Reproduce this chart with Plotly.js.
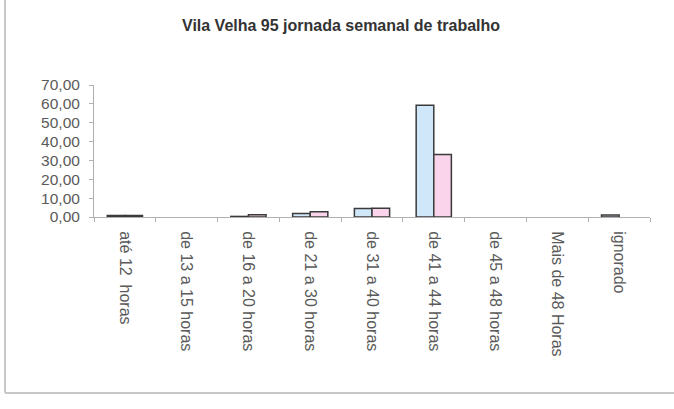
<!DOCTYPE html>
<html>
<head>
<meta charset="utf-8">
<script src="https://cdn.plot.ly/plotly-3.0.1.min.js"></script>
<style>html,body{margin:0;padding:0;background:#fff;}#chart{width:674px;height:409px;}</style>
</head>
<body>
<div id="chart"></div>
<script>
const categories = ["até 12  horas", "de 13 a 15 horas", "de 16 a 20 horas", "de 21 a 30 horas", "de 31 a 40 horas", "de 41 a 44 horas", "de 45 a 48 horas", "Mais de 48 Horas", "ignorado"];
const serieA = [0.8, 0, 0.3, 1.8, 4.5, 59.3, 0, 0, 1.0];
const serieB = [0.8, 0, 1.2, 2.8, 4.6, 33.2, 0, 0, 0];
const yTickVals = [0, 10, 20, 30, 40, 50, 60, 70];
const yTickText = ["0,00", "10,00", "20,00", "30,00", "40,00", "50,00", "60,00", "70,00"];
const titleText = "Vila Velha 95 jornada semanal de trabalho";

const font = "Arial, 'Liberation Sans', sans-serif";
function outlineWidths(vals) { return vals.map(v => v > 0 ? 1.5 : 0); }
const traces = [
  {type: "bar", x: categories, y: serieA, name: "A",
   marker: {color: "#cfe7f8", line: {color: "#3a3a3a", width: outlineWidths(serieA)}}},
  {type: "bar", x: categories, y: serieB, name: "B",
   marker: {color: "#f9d4ea", line: {color: "#3a3a3a", width: outlineWidths(serieB)}}}
];
const layout = {
  width: 674, height: 409,
  margin: {l: 94, r: 24, t: 85, b: 192, pad: 0},
  paper_bgcolor: "#fff", plot_bgcolor: "#fff",
  showlegend: false,
  barmode: "group", bargap: 0.43, bargroupgap: 0,
  font: {family: font, color: "#5a5a5a", size: 15},
  title: {text: "<b>" + titleText + "</b>", font: {family: font, size: 16, color: "#333"},
          x: 0.506, xref: "container", xanchor: "center", y: 0.939, yref: "container", yanchor: "middle"},
  xaxis: {type: "category", tickson: "boundaries", ticks: "outside", ticklen: 4, tickcolor: "#b0b0b0",
          showline: true, linecolor: "#b0b0b0", linewidth: 1, showgrid: false, zeroline: false,
          tickangle: 90, ticklabelstandoff: 10, tickfont: {family: font, size: 16, color: "#5a5a5a"}, fixedrange: true},
  yaxis: {range: [0, 70], tickvals: yTickVals, ticktext: yTickText, ticks: "outside", ticklen: 4,
          tickcolor: "#b0b0b0", showline: true, linecolor: "#b0b0b0", linewidth: 1, showgrid: false,
          zeroline: false, ticklabelstandoff: 6, tickfont: {family: font, size: 15.5, color: "#5a5a5a"}},
  shapes: [
    {type: "line", xref: "paper", yref: "paper", x0: -0.160, x1: -0.160, y0: -1.333, y1: 1.65,
     line: {color: "#c8c8c8", width: 2}},
    {type: "line", xref: "paper", yref: "paper", x0: -0.160, x1: 1.05, y0: -1.333, y1: -1.333,
     line: {color: "#c8c8c8", width: 2}}
  ]
};
Plotly.newPlot("chart", traces, layout, {displayModeBar: false, staticPlot: true});
</script>
</body>
</html>
